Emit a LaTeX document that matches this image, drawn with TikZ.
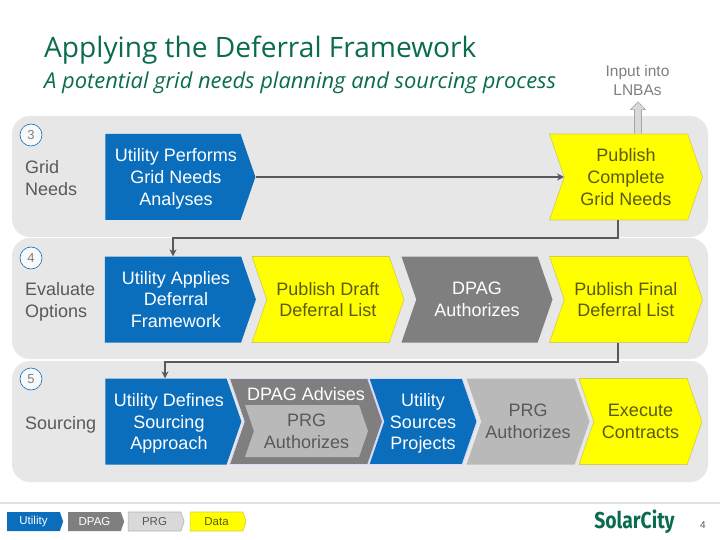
\documentclass[tikz,border=0pt]{standalone}
\usepackage{fontspec}
\setmainfont{Liberation Sans}
\newfontfamily\headfont{Open Sans}
\newfontfamily\logofont[FakeStretch=.84]{Fira Sans}
\usetikzlibrary{shapes.symbols,arrows.meta}
\definecolor{bandgray}{HTML}{E7E7E7}
\definecolor{utilblue}{HTML}{0A6EBD}
\definecolor{dpaggray}{HTML}{7F7F7F}
\definecolor{prggray}{HTML}{B9B9B9}
\definecolor{datayellow}{HTML}{FFFF00}
\definecolor{headgreen}{HTML}{0B6B50}
\definecolor{inkgray}{HTML}{595959}
\definecolor{olivetext}{HTML}{5A5A10}
\newcommand{\pad}{\hspace*{6pt}}
\tikzset{
  chev/.style={shape=signal, signal to=east, signal pointer angle=142, inner sep=0pt,
    minimum height=86, align=center, font=\fontsize{18}{21.7}\selectfont},
  notched/.style={signal from=west},
  utility/.style={chev, fill=utilblue, text=white},
  dpag/.style={chev, notched, fill=dpaggray, text=white},
  prg/.style={chev, notched, fill=prggray, text=inkgray},
  data/.style={chev, notched, fill=datayellow, draw=yellow!60!gray, line width=.6pt, text=olivetext},
  keybox/.style={minimum height=19, font=\fontsize{11.5}{14}\selectfont},
  rowlabel/.style={anchor=west, align=left, text=inkgray, font=\fontsize{18}{21.7}\selectfont},
  numcirc/.style={circle, draw=utilblue, fill=white!95!gray, line width=.6pt, minimum size=22,
    inner sep=0pt, text=gray, font=\fontsize{13}{15}\selectfont},
  flow/.style={draw=inkgray, line width=1.8pt, -{Stealth[length=7pt,width=7pt]}}
}
\begin{document}
\begin{tikzpicture}[x=1pt,y=-1pt]
\useasboundingbox (0,0) rectangle (720,540);
% bands
\foreach \y in {116,238,361}
\fill[bandgray, rounded corners=18] (12,\y) rectangle (708,\y+121);
\fill[black!12] (0,501.5) rectangle (720,504);
% heading
\node[anchor=west, text=headgreen, font=\headfont\fontsize{28.1}{32}\selectfont, inner sep=0pt] (title) at (44,50) {Applying the Deferral Framework};
\node[anchor=west, text=headgreen, font=\headfont\itshape\fontsize{21.9}{24}\selectfont, inner sep=0pt] (subtitle) at (44,83) {A potential grid needs planning and sourcing process};
\node[text=gray, align=center, font=\fontsize{15.5}{19}\selectfont, inner sep=0pt] (lnba) at (637.5,80) {Input into\\LNBAs};
% row labels
\foreach \n/\y in {3/135,4/258,5/379}
\node[numcirc] (num\n) at (31,\y) {\n};
\node[rowlabel, inner sep=0pt] (lblgrid) at (25,178) {Grid\\Needs};
\node[rowlabel, inner sep=0pt] (lbleval) at (25,302) {Evaluate\\Options};
\node[rowlabel, inner sep=0pt] (lblsrc) at (25,424.5) {Sourcing};
% row 3
\node[utility, minimum width=150] (needs) at (173,177) {\pad Utility Performs\\\pad Grid Needs\\\pad\smash{Analyses}};
\node[data, minimum width=153] (pubgrid) at (626,177) {Publish\\Complete\\Grid Needs};
% row 4
\node[utility, minimum width=151] (applies) at (173,299.5) {\pad Utility Applies\\\pad Deferral\\\pad Framework};
\node[data, minimum width=152] (draft) at (328,299.5) {Publish Draft\\Deferral List};
\node[dpag, minimum width=151] (authd) at (477,299.5) {DPAG\\Authorizes};
\node[data, minimum width=153] (final) at (626,299.5) {Publish Final\\Deferral List};
% row 5
\node[utility, minimum width=136] (defines) at (166,421.5) {\pad Utility Defines\\\pad Sourcing\\\pad\smash{Approach}};
\node[dpag, minimum width=153, draw=blue!15, line width=.8pt] (advises) at (306,421.5) {};
\node[text=white, font=\fontsize{18}{21.7}\selectfont, inner sep=0pt] (advtxt) at (306,394) {DPAG Advises};
\node[prg, minimum width=123, minimum height=52] (authp) at (306.5,431) {PRG\\Authorizes};
\node[utility, notched, minimum width=108, draw=blue!15, line width=.8pt] (sources) at (423,421.5) {Utility\\Sources\\\smash{Projects}};
\node[prg, minimum width=123] (prgauth) at (528,421.5) {PRG\\Authorizes};
\node[data, minimum width=123] (execute) at (640.5,421.5) {Execute\\Contracts};
% arrows
\draw[flow] (needs.east) -- (pubgrid.west);
\draw[flow] ([xshift=-8pt]pubgrid.south) -- ++(0,18) -| (applies.north);
\draw[flow] ([xshift=-8pt]final.south) -- ++(0,19) -| ([xshift=-1pt]defines.north);
\draw[draw=black!35, fill=black!15, line width=.6pt] ([xshift=8.5pt]pubgrid.north) -- ++(0,-24) -- ++(-4,0) -- ++(7.5,-8) -- ++(7.5,8) -- ++(-4,0) -- ++(0,24);
% key
\node[utility, keybox, minimum width=56] (keyu) at (33.5,521.5) {Utility};
\node[dpag, keybox, minimum width=56, signal from=nowhere] (keyd) at (94.5,521.5) {DPAG};
\node[prg, keybox, minimum width=56, signal from=nowhere, fill=black!15, draw=black!30, line width=.6pt] (keyp) at (154.5,521.5) {PRG};
\node[data, keybox, minimum width=56, signal from=nowhere] (keyy) at (216.5,521.5) {Data};
% footer
\node[text=headgreen, font=\logofont\bfseries\fontsize{23}{26}\selectfont, inner sep=0pt] (logo) at (634.5,522) {SolarCity};
\node[text=inkgray, font=\fontsize{10}{12}\selectfont, inner sep=0pt] (page) at (703,525) {4};
\end{tikzpicture}
\end{document}
